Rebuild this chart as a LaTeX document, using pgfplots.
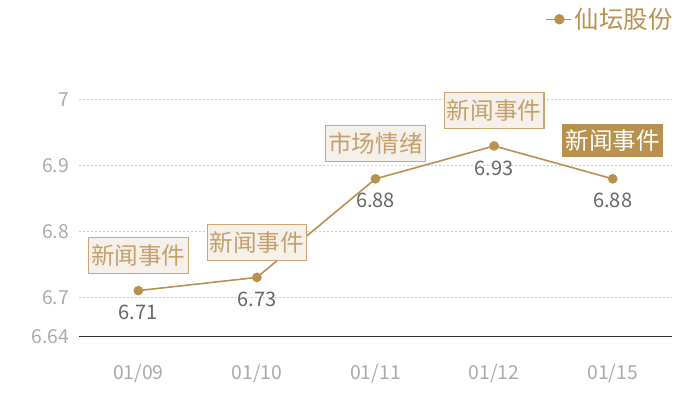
\documentclass[border=0pt]{standalone}
\usepackage{fontspec}
\setmainfont{Noto Sans CJK SC}
\usepackage{pgfplots}
\usepackage{pgfplotstable}
\pgfplotsset{compat=1.18}
\definecolor{gold}{HTML}{B8914F}
\definecolor{boxfill}{HTML}{F5F0EA}
\definecolor{boxdraw}{HTML}{C9A774}
\definecolor{boxtext}{HTML}{C2A06C}
\definecolor{ticktext}{HTML}{AAAAAA}
\definecolor{valtext}{HTML}{666666}
\definecolor{gridc}{HTML}{CCCCCC}
\pgfplotstableread{
x y
0 6.71
1 6.73
2 6.88
3 6.93
4 6.88
}\pricedata
\pgfplotstableread{
x y label
0 6.71 新闻事件
1 6.73 新闻事件
2 6.88 市场情绪
3 6.93 新闻事件
}\eventdata
\pgfplotstableread{
x y label
4 6.88 新闻事件
}\eventlast
\begin{document}
\begin{tikzpicture}
\useasboundingbox (0,0) rectangle (525pt,300pt);
\begin{axis}[
  at={(59.25pt,47.55pt)}, anchor=south west,
  scale only axis, width=444.75pt, height=177.5pt,
  xmin=-0.5, xmax=4.5, ymin=6.64, ymax=7,
  clip=false,
  axis y line*=left,
  y axis line style={draw=none},
  axis x line*=bottom,
  x axis line style={draw=black!80, line width=0.8pt, -},
  xtick={0,1,2,3,4},
  xticklabels={01/09,01/10,01/11,01/12,01/15},
  major tick length=0pt,
  ytick={6.64,6.7,6.8,6.9,7},
  yticklabels={6.64,6.7,6.8,6.9,7},
  ymajorgrids=true,
  grid style={dash pattern=on 1.5pt off 1.5pt, draw=gridc, line width=0.75pt},
  /pgf/number format/assume math mode=true,
  tick label style={font=\fontsize{14.5}{17}\selectfont, text=ticktext},
  xticklabel style={yshift=-17pt},
  yticklabel style={xshift=-4pt},
  legend style={draw=none, fill=none, at={(1,1)}, anchor=east,
    xshift=2.5pt, yshift=60.5pt, inner sep=0pt,
    font=\fontsize{18.3}{21}\selectfont, text=gold},
  legend image code/.code={
    \draw[gold, line width=1.1pt] (-4pt,0pt) -- (15pt,0pt);
    \fill[gold] (6pt,0pt) circle (3.3pt);
  },
]
\addplot[gold, line width=1.2pt, mark=*, mark size=3pt, mark options={fill=gold, draw=gold},
  nodes near coords, point meta=explicit,
  every node near coord/.style={anchor=center, yshift=-16.5pt, font=\fontsize{15}{18}\selectfont, text=valtext}]
  table[x=x, y=y, meta=y] {\pricedata};
\addlegendentry{仙坛股份}
\addplot[draw=none, mark=none, forget plot,
  nodes near coords, point meta=explicit symbolic,
  every node near coord/.style={anchor=south, yshift=12.5pt, draw=boxdraw, fill=boxfill, line width=0.8pt,
    inner xsep=2pt, inner ysep=5.3pt, text=boxtext, font=\fontsize{17.7}{20}\selectfont}]
  table[x=x, y=y, meta=label] {\eventdata};
\addplot[draw=none, mark=none, forget plot,
  nodes near coords, point meta=explicit symbolic,
  every node near coord/.style={anchor=south, yshift=16pt, draw=gold, fill=gold, line width=0.8pt,
    inner xsep=2pt, inner ysep=4pt, text=white, font=\fontsize{17.7}{20}\selectfont}]
  table[x=x, y=y, meta=label] {\eventlast};
\end{axis}
\end{tikzpicture}
\end{document}
